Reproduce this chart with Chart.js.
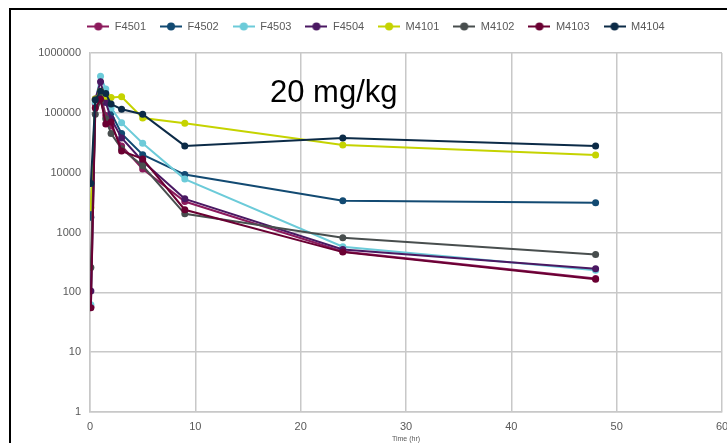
<!DOCTYPE html>
<html>
<head>
<meta charset="utf-8">
<script src="https://cdn.jsdelivr.net/npm/chart.js@4/dist/chart.umd.min.js"></script>
<style>
    html, body { margin: 0; padding: 0; background: #fff; overflow: hidden; }
    #wrap { position: relative; width: 727px; height: 443px; overflow: hidden; }
    #frame { position: absolute; left: 9px; top: 8px; width: 1000px; height: 1000px; border: 2px solid #000; box-sizing: border-box; }
    #dose { position: absolute; left: 270px; top: 76px; font: 31px "Liberation Sans", Arial, sans-serif; line-height: 1; color: #000; white-space: nowrap; }
    canvas { position: absolute; left: 0; top: 0; }
</style>
</head>
<body>
<div id="wrap">
    <div id="frame"></div>
    <canvas id="pk-chart" width="727" height="443"></canvas>
    <div id="dose">20 mg/kg</div>
</div>
<script>
// Sampling times (hr)
const times = [0.083, 0.5, 1, 1.5, 2, 3, 5, 9, 24, 48];

// Concentrations per animal
const f4501 = [57, 140000, 200000, 90000, 60000, 28000, 11500, 3300, 480, 170];
const f4502 = [1800, 160000, 190000, 150000, 100000, 45000, 20000, 9300, 3400, 3150];
const f4503 = [62, 150000, 410000, 250000, 120000, 68000, 31000, 7800, 580, 235];
const f4504 = [105, 170000, 330000, 150000, 80000, 38000, 15500, 3650, 520, 248];
const m4101 = [2600, 170000, 230000, 190000, 180000, 185000, 82000, 67000, 29000, 19800];
const m4102 = [260, 95000, 160000, 80000, 45000, 25000, 13000, 2050, 820, 430];
const m4103 = [55, 120000, 170000, 65000, 70000, 23000, 17000, 2400, 470, 165];
const m4104 = [6600, 165000, 230000, 210000, 140000, 115000, 95000, 28000, 38000, 28000];

const seriesNames = ['F4501', 'F4502', 'F4503', 'F4504', 'M4101', 'M4102', 'M4103', 'M4104'];
const seriesValues = [f4501, f4502, f4503, f4504, m4101, m4102, m4103, m4104];

// Axis ticks
const yTicks = [1, 10, 100, 1000, 10000, 100000, 1000000];
const xTicks = [0, 10, 20, 30, 40, 50, 60];

let colors = {
    F4501: '#8c1a5c',
    F4502: '#124a72',
    F4503: '#6ccbd9',
    F4504: '#4a1862',
    M4101: '#c5d300',
    M4102: '#484e4e',
    M4103: '#6a0032',
    M4104: '#0c2b47'
};

const FONT = '"Liberation Sans", Arial, sans-serif';

// little line-with-dot marker for the legend
let legendMarker = function(color){
    let c = document.createElement('canvas');
    c.width = 22;
    c.height = 9;
    let ctx = c.getContext('2d');
    ctx.strokeStyle = color;
    ctx.lineWidth = 2;
    ctx.beginPath();
    ctx.moveTo(0, 4.5);
    ctx.lineTo(22, 4.5);
    ctx.stroke();
    ctx.fillStyle = color;
    ctx.beginPath();
    ctx.arc(11, 4.5, 4, 0, Math.PI * 2);
    ctx.fill();
    return c;
};

// push the plot area down a bit below the legend
const legendGap = {
    id: 'legendGap',
    beforeInit: function(chart){
        const fit = chart.legend.fit;
        chart.legend.fit = function(){
            fit.bind(chart.legend)();
            this.height += 11;
        };
    }
};

let datasets = seriesNames.map(function(name, i){
    return {
        label: name,
        data: times.map((t, j) => ({x: t, y: seriesValues[i][j]})),
        borderColor: colors[name],
        backgroundColor: colors[name],
        borderWidth: 2,
        pointRadius: 3.5,
        pointHoverRadius: 3.5,
        pointBorderWidth: 0,
        tension: 0,
        fill: false,
        order: -i   // later series on top, like the original
    };
});

document.addEventListener('DOMContentLoaded', function() {
    let ctx = document.getElementById('pk-chart').getContext('2d');
    new Chart(ctx, {
        type: 'line',
        data: { datasets: datasets },
        plugins: [legendGap],
        options: {
            responsive: false,
            animation: false,
            layout: { padding: { left: 30, right: 5, top: 7, bottom: 0 } },
            plugins: {
                tooltip: { enabled: false },
                legend: {
                    position: 'top',
                    labels: {
                        usePointStyle: true,
                        pointStyleWidth: 22,
                        padding: 14,
                        color: '#595959',
                        font: { family: FONT, size: 11 },
                        generateLabels: function(chart){
                            return chart.data.datasets.map(function(ds, i){
                                return {
                                    text: ds.label,
                                    datasetIndex: i,
                                    pointStyle: legendMarker(ds.borderColor),
                                    fillStyle: ds.borderColor,
                                    strokeStyle: ds.borderColor,
                                    lineWidth: 0,
                                    fontColor: '#595959',
                                    hidden: false
                                };
                            });
                        }
                    }
                }
            },
            scales: {
                x: {
                    type: 'linear',
                    min: 0,
                    max: 60,
                    afterBuildTicks: function(scale){
                        scale.ticks = xTicks.map(v => ({value: v}));
                    },
                    afterFit: function(scale){
                        scale.height = 31;
                        scale.paddingRight = 0;
                        scale.paddingLeft = 0;
                    },
                    grid: { color: '#c8c8c8', lineWidth: 1.5, drawTicks: false },
                    border: { color: '#c8c8c8', width: 1.5 },
                    ticks: { padding: 8, color: '#595959', font: { family: FONT, size: 11 } },
                    title: {
                        display: true,
                        text: 'Time (hr)',
                        color: '#595959',
                        font: { family: FONT, size: 7 },
                        padding: { top: 0, bottom: 0 }
                    }
                },
                y: {
                    type: 'logarithmic',
                    min: 1,
                    max: 1000000,
                    afterBuildTicks: function(scale){
                        scale.ticks = yTicks.map(v => ({value: v}));
                    },
                    afterFit: function(scale){
                        scale.width = 60;
                    },
                    grid: { color: '#c8c8c8', lineWidth: 1.5, drawTicks: false },
                    border: { color: '#c8c8c8', width: 1.5 },
                    ticks: {
                        padding: 9,
                        color: '#595959',
                        font: { family: FONT, size: 11 },
                        callback: function(v){ return String(v); }
                    }
                }
            }
        }
    });
});
</script>
</body>
</html>
